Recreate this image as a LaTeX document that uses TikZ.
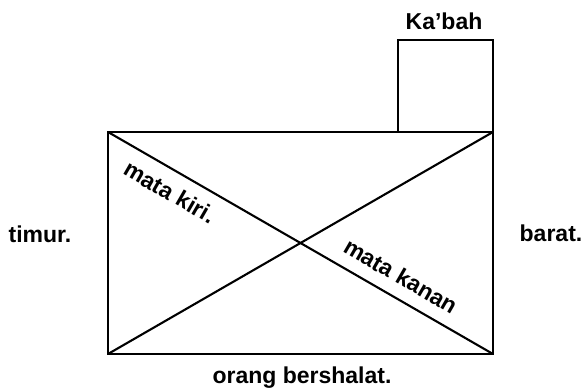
\documentclass[tikz,border=0pt]{standalone}
\usepackage{fontspec}
\setmainfont{Liberation Sans}
\begin{document}
\begin{tikzpicture}[x=1pt,y=1pt,
  lbl/.style={font=\bfseries\fontsize{23}{26}\selectfont, inner sep=0pt},
  frame/.style={line width=2.8pt, line cap=rect},
  diag/.style={line width=2.1pt}]
\useasboundingbox (0,0) rectangle (583,391);
% main rectangle corners
\coordinate (tl) at (108,259);
\coordinate (tr) at (493,259);
\coordinate (br) at (493,37);
\coordinate (bl) at (108,37);
% Ka'bah box
\coordinate (kbl) at (398,259);
\coordinate (ktl) at (398,351);
\coordinate (ktr) at (493,351);
\draw[frame] (tl) -- (tr) -- (br) -- (bl) -- cycle;
\draw[frame] (kbl) -- (ktl) -- (ktr) -- (tr);
\draw[diag] (tl) -- (br);
\draw[diag] (bl) -- (tr);
% labels
\node[lbl, anchor=base] (kabah) at (444,361) {Ka’bah};
\node[lbl, anchor=base] (timur) at (40,148) {timur.};
\node[lbl, anchor=base] (barat) at (551,149) {barat.};
\node[lbl, anchor=base] (orang) at (302,8) {orang bershalat.};
\node[lbl, rotate=-30] (kiri) at (170,199) {mata kiri.};
\node[lbl, rotate=-30] (kanan) at (401,115) {mata kanan};
\end{tikzpicture}
\end{document}
